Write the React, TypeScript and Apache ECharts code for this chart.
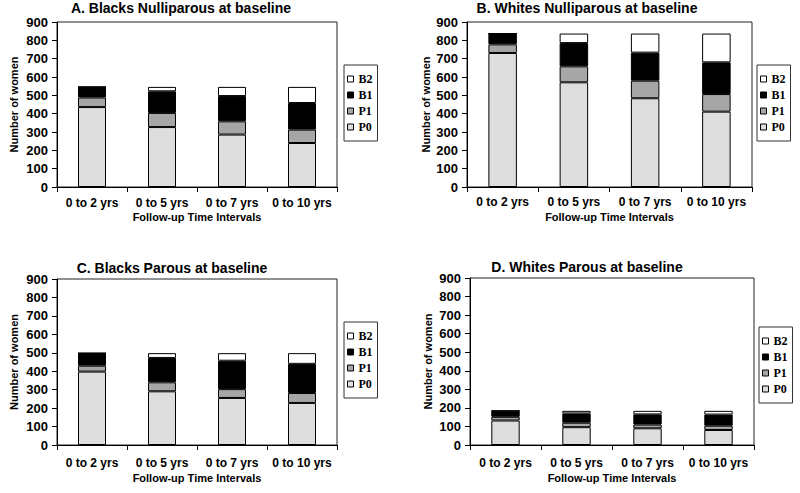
import React, { useEffect, useRef } from "react";
import * as echarts from "echarts";

const categories = ["0 to 2 yrs", "0 to 5 yrs", "0 to 7 yrs", "0 to 10 yrs"];
const seriesNames = ["P0", "P1", "B1", "B2"];
const legendOrder = ["B2", "B1", "P1", "P0"];
const yTicksMax = 900;
const yTickStep = 100;

const panelTitles = [
  "A. Blacks Nulliparous at baseline",
  "B. Whites Nulliparous at baseline",
  "C. Blacks Parous at baseline",
  "D. Whites Parous at baseline",
];

// Panel A
const aP0 = [436, 327, 286, 240];
const aP1 = [52, 77, 72, 73];
const aB1 = [58, 118, 138, 145];
const aB2 = [0, 24, 50, 88];
// Panel B
const bP0 = [731, 571, 484, 411];
const bP1 = [47, 87, 96, 96];
const bB1 = [59, 127, 153, 173];
const bB2 = [0, 52, 104, 157];
// Panel C
const cP0 = [398, 291, 255, 228];
const cP1 = [32, 49, 48, 54];
const cB1 = [68, 132, 154, 158];
const cB2 = [0, 26, 41, 58];
// Panel D
const dP0 = [132, 96, 90, 81];
const dP1 = [20, 24, 20, 23];
const dB1 = [32, 50, 55, 60];
const dB2 = [0, 14, 19, 20];

const panelData = [
  [aP0, aP1, aB1, aB2],
  [bP0, bP1, bB1, bB2],
  [cP0, cP1, cB1, cB2],
  [dP0, dP1, dB1, dB2],
];

const colors: Record<string, string> = {
  P0: "#dedede",
  P1: "#a6a6a6",
  B1: "#000000",
  B2: "#ffffff",
};

const layout = [
  { grid: { left: 57, top: 22, width: 280, height: 165 }, legend: { left: 344, top: 65 }, title: [181, 8], yGap: 38, xGap: 24, catMargin: 10 },
  { grid: { left: 467, top: 22, width: 285, height: 165 }, legend: { left: 757, top: 65 }, title: [587, 8], yGap: 36, xGap: 24, catMargin: 9 },
  { grid: { left: 57, top: 279, width: 280, height: 166 }, legend: { left: 344, top: 322 }, title: [172, 268], yGap: 38, xGap: 27, catMargin: 12 },
  { grid: { left: 470, top: 278, width: 284, height: 167 }, legend: { left: 759, top: 327 }, title: [587, 267], yGap: 37, xGap: 27, catMargin: 12 },
];

const SANS = "'Liberation Sans', Arial, sans-serif";
const SERIF = "'Liberation Serif', 'Times New Roman', serif";

export default function App() {
  const ref = useRef<HTMLDivElement>(null);
  useEffect(() => {
    if (!ref.current) return;
    const chart = echarts.init(ref.current, undefined, { renderer: "svg" });
    const grids: any[] = [];
    const xAxes: any[] = [];
    const yAxes: any[] = [];
    const series: any[] = [];
    const legends: any[] = [];
    const graphics: any[] = [];
    layout.forEach((L, i) => {
      grids.push({ ...L.grid, show: true, borderColor: "#222", borderWidth: 1, backgroundColor: "transparent" });
      xAxes.push({
        type: "category",
        gridIndex: i,
        data: categories,
        name: "Follow-up Time Intervals",
        nameLocation: "middle",
        nameGap: L.xGap,
        nameTextStyle: { fontFamily: SANS, fontWeight: "bold", fontSize: 11, color: "#000" },
        axisLine: { lineStyle: { color: "#000", width: 1 } },
        axisTick: { show: true, length: 5, interval: 0, lineStyle: { color: "#000" } },
        axisLabel: { interval: 0, hideOverlap: false, fontFamily: SANS, fontWeight: "bold", fontSize: 12, color: "#000", margin: L.catMargin },
        splitLine: { show: false },
      });
      yAxes.push({
        type: "value",
        gridIndex: i,
        min: 0,
        max: yTicksMax,
        interval: yTickStep,
        name: "Number of women",
        nameLocation: "middle",
        nameGap: L.yGap,
        nameTextStyle: { fontFamily: SANS, fontWeight: "bold", fontSize: 11, color: "#000" },
        axisLine: { show: true, lineStyle: { color: "#000", width: 1 } },
        axisTick: { show: true, length: 5, lineStyle: { color: "#000" } },
        axisLabel: { fontFamily: SANS, fontWeight: "bold", fontSize: 13, color: "#000", margin: 9 },
        splitLine: { show: false },
      });
      seriesNames.forEach((name, k) => {
        series.push({
          type: "bar",
          name,
          xAxisIndex: i,
          yAxisIndex: i,
          stack: "s" + i,
          barWidth: "40%",
          data: panelData[i][k],
          itemStyle: { color: colors[name], borderColor: "#000", borderWidth: 1 },
          emphasis: { disabled: true },
        });
      });
      legends.push({
        orient: "vertical",
        left: L.legend.left,
        top: L.legend.top,
        data: legendOrder,
        icon: "rect",
        itemWidth: 6,
        itemHeight: 6,
        itemGap: 4,
        itemStyle: { borderColor: "#000", borderWidth: 1 },
        padding: [8, 5, 8, 3],
        borderColor: "#333",
        borderWidth: 1,
        textStyle: { fontFamily: SERIF, fontWeight: "bold", fontSize: 12, lineHeight: 12, color: "#000" },
        selectedMode: false,
      });
      graphics.push({
        type: "text",
        x: L.title[0],
        y: L.title[1],
        style: {
          text: panelTitles[i],
          textAlign: "center",
          textVerticalAlign: "middle",
          font: "bold 14px " + SANS,
          fill: "#000",
        },
      });
    });
    chart.setOption({
      animation: false,
      backgroundColor: "#fff",
      grid: grids,
      xAxis: xAxes,
      yAxis: yAxes,
      series,
      legend: legends,
      graphic: graphics,
    });
    return () => chart.dispose();
  }, []);
  return (
    <div
      ref={ref}
      style={{ position: "fixed", left: 0, top: 0, width: 800, height: 493, background: "#fff" }}
    />
  );
}
